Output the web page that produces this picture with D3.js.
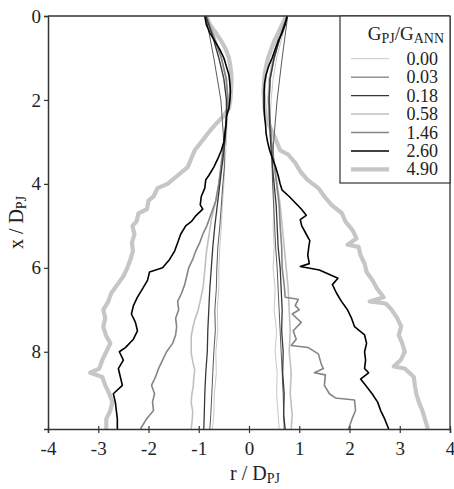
<!DOCTYPE html>
<html><head><meta charset="utf-8">
<script src="https://cdn.jsdelivr.net/npm/d3@7"></script>
<style>
html,body{margin:0;padding:0;background:#fff;}
svg text{font-family:"Liberation Serif","Times New Roman",serif;fill:#222;}
</style></head>
<body><svg id="c" width="454" height="489"></svg>
<script>
// ---- data: [x/D_PJ, r/D_PJ] ----
const seriesLabels = ["0.00","0.03","0.18","0.58","1.46","2.60","4.90"];
const xTicks = [-4,-3,-2,-1,0,1,2,3,4];
const yTicks = [0,2,4,6,8];

const g000L = [[0,-0.85],[0.5,-0.72],[1,-0.6],[1.5,-0.5],[2,-0.45],[2.5,-0.44],[3,-0.45],[3.5,-0.48],[4,-0.5],[4.5,-0.53],[5,-0.55],[5.5,-0.58],[6,-0.6],[6.5,-0.6],[7,-0.63],[7.5,-0.62],[8,-0.66],[8.5,-0.65],[9,-0.69],[9.5,-0.7],[9.84,-0.73]];
const g000R = [[0,0.76],[0.5,0.66],[1,0.55],[1.5,0.48],[2,0.44],[2.5,0.42],[3,0.44],[3.5,0.46],[4,0.48],[4.5,0.5],[5,0.48],[5.5,0.5],[6,0.48],[6.5,0.52],[7,0.5],[7.5,0.55],[8,0.52],[8.5,0.56],[9,0.55],[9.5,0.58],[9.84,0.6]];
const g003L = [[0,-0.86],[1,-0.7],[2,-0.56],[3,-0.5],[3.6,-0.49],[4,-0.52],[5,-0.58],[5.5,-0.62],[6,-0.64],[6.5,-0.65],[7,-0.68],[7.5,-0.67],[8,-0.7],[8.5,-0.72],[9,-0.74],[9.5,-0.76],[9.84,-0.78]];
const g003R = [[0,0.77],[1,0.66],[2,0.56],[3,0.49],[3.6,0.46],[4,0.47],[5,0.51],[5.5,0.53],[6,0.56],[6.5,0.58],[7,0.6],[7.5,0.62],[8,0.64],[8.5,0.66],[9,0.68],[9.5,0.69],[9.84,0.7]];
const g018L = [[0,-0.86],[0.5,-0.72],[1,-0.6],[1.5,-0.5],[2,-0.45],[2.5,-0.45],[3,-0.48],[3.5,-0.53],[4,-0.58],[4.5,-0.63],[5,-0.68],[5.5,-0.72],[6,-0.75],[6.5,-0.78],[7,-0.8],[7.5,-0.82],[8,-0.83],[8.5,-0.86],[9,-0.88],[9.5,-0.89],[9.84,-0.9]];
const g018R = [[0,0.76],[0.5,0.62],[1,0.5],[1.5,0.42],[2,0.4],[2.5,0.41],[3,0.43],[3.5,0.46],[4,0.5],[4.5,0.54],[5,0.56],[5.5,0.58],[6,0.62],[6.5,0.64],[7,0.66],[7.5,0.65],[8,0.68],[8.5,0.67],[9,0.7],[9.5,0.69],[9.84,0.72]];
const g058L = [[0,-0.85],[0.5,-0.68],[1,-0.55],[1.5,-0.46],[2,-0.42],[2.5,-0.44],[3,-0.48],[3.5,-0.54],[4,-0.6],[4.5,-0.68],[4.86,-0.75],[5.25,-0.8],[5.65,-0.85],[6.05,-0.88],[6.44,-0.91],[6.84,-0.98],[7.04,-1.02],[7.24,-1.08],[7.44,-1.12],[7.63,-1.15],[8.03,-1.15],[8.23,-1.12],[8.43,-1.08],[8.63,-1.1],[8.83,-1.11],[9.03,-1.14],[9.22,-1.15],[9.42,-1.12],[9.62,-1.13],[9.84,-1.15]];
const g058R = [[0,0.76],[0.5,0.58],[1,0.48],[1.5,0.4],[2,0.38],[2.5,0.4],[3,0.44],[3.5,0.5],[4,0.56],[4.5,0.62],[5,0.66],[5.5,0.7],[6,0.74],[6.5,0.78],[7,0.8],[7.5,0.82],[8,0.8],[8.5,0.84],[9,0.82],[9.5,0.86],[9.84,0.84]];
const g146L = [[0,-0.85],[0.5,-0.7],[1,-0.55],[1.5,-0.45],[2,-0.42],[2.5,-0.45],[3,-0.5],[3.5,-0.55],[4,-0.6],[4.4,-0.66],[4.8,-0.78],[5,-0.84],[5.2,-0.92],[5.4,-0.98],[5.6,-1.06],[5.8,-1.12],[6,-1.2],[6.2,-1.24],[6.4,-1.28],[6.6,-1.34],[6.8,-1.42],[7,-1.4],[7.2,-1.46],[7.4,-1.44],[7.6,-1.46],[7.8,-1.52],[8,-1.64],[8.2,-1.72],[8.4,-1.8],[8.6,-1.86],[8.8,-1.94],[9,-1.88],[9.2,-1.92],[9.4,-1.9],[9.6,-2.04],[9.84,-2.16]];
const g146R = [[0,0.76],[0.5,0.62],[1,0.5],[1.5,0.42],[2,0.4],[2.5,0.42],[3,0.45],[3.5,0.5],[4,0.55],[4.5,0.6],[5,0.62],[5.5,0.65],[6,0.66],[6.4,0.7],[6.7,0.72],[6.75,0.98],[6.9,0.92],[7,1.0],[7.1,0.86],[7.3,1.04],[7.5,0.88],[7.7,0.94],[7.85,0.84],[7.9,1.18],[8.05,1.38],[8.3,1.44],[8.4,1.48],[8.5,1.3],[8.55,1.52],[8.8,1.5],[9,1.6],[9.1,1.72],[9.15,2.1],[9.4,2.12],[9.6,2.05],[9.84,1.98]];
const g260L = [[0,-0.88],[0.2,-0.85],[0.4,-0.78],[0.6,-0.68],[0.8,-0.58],[1,-0.5],[1.2,-0.45],[1.4,-0.4],[1.6,-0.38],[1.8,-0.37],[2,-0.38],[2.2,-0.4],[2.4,-0.45],[2.6,-0.46],[2.8,-0.48],[3,-0.5],[3.2,-0.55],[3.4,-0.62],[3.6,-0.7],[3.8,-0.8],[3.9,-0.86],[4.1,-0.88],[4.3,-0.95],[4.5,-0.97],[4.6,-0.92],[4.75,-1.05],[4.9,-1.15],[5,-1.26],[5.2,-1.36],[5.4,-1.42],[5.6,-1.48],[5.8,-1.58],[6,-1.72],[6.1,-1.98],[6.3,-2.02],[6.5,-2.12],[6.7,-2.22],[6.9,-2.3],[7.1,-2.34],[7.3,-2.26],[7.5,-2.22],[7.7,-2.3],[7.9,-2.46],[8,-2.58],[8.2,-2.5],[8.4,-2.6],[8.6,-2.56],[8.8,-2.52],[9,-2.7],[9.2,-2.66],[9.4,-2.64],[9.6,-2.62],[9.84,-2.62]];
const g260R = [[0,0.76],[0.2,0.72],[0.4,0.66],[0.6,0.58],[0.8,0.52],[1,0.46],[1.2,0.39],[1.4,0.34],[1.6,0.31],[1.8,0.3],[2,0.3],[2.2,0.3],[2.4,0.31],[2.6,0.33],[2.8,0.34],[3,0.37],[3.2,0.41],[3.4,0.47],[3.6,0.53],[3.8,0.58],[4,0.62],[4.15,0.66],[4.3,0.8],[4.45,0.92],[4.6,1.04],[4.75,1.14],[4.85,1.02],[5,1.05],[5.2,1.14],[5.35,1.21],[5.5,1.19],[5.7,1.17],[5.9,1.2],[5.97,1.02],[6.05,1.4],[6.25,1.77],[6.4,1.66],[6.6,1.74],[6.8,1.84],[7,1.96],[7.2,2.04],[7.4,2.1],[7.6,2.3],[7.8,2.34],[8,2.3],[8.2,2.32],[8.4,2.3],[8.5,2.38],[8.65,2.22],[8.8,2.32],[9,2.45],[9.2,2.56],[9.4,2.62],[9.6,2.7],[9.84,2.78]];
const g490L = [[0,-0.85],[0.2,-0.78],[0.4,-0.66],[0.6,-0.55],[0.8,-0.46],[1,-0.4],[1.2,-0.37],[1.4,-0.35],[1.6,-0.35],[1.8,-0.36],[2,-0.37],[2.2,-0.4],[2.4,-0.52],[2.6,-0.68],[2.8,-0.82],[3,-0.95],[3.2,-1.08],[3.4,-1.15],[3.6,-1.22],[3.8,-1.42],[4,-1.62],[4.1,-1.82],[4.3,-1.9],[4.4,-2.0],[4.6,-2.03],[4.7,-2.2],[4.9,-2.24],[5,-2.32],[5.2,-2.28],[5.4,-2.33],[5.6,-2.31],[5.8,-2.36],[6,-2.42],[6.2,-2.5],[6.4,-2.62],[6.6,-2.74],[6.8,-2.8],[7,-2.9],[7.2,-2.86],[7.4,-2.9],[7.6,-2.85],[7.8,-2.76],[8,-2.84],[8.2,-2.92],[8.4,-2.98],[8.5,-3.16],[8.6,-2.92],[8.8,-2.86],[9,-2.78],[9.2,-2.72],[9.4,-2.76],[9.6,-2.84],[9.84,-2.84]];
const g490R = [[0,0.74],[0.2,0.66],[0.4,0.58],[0.6,0.5],[0.8,0.44],[1,0.38],[1.2,0.34],[1.4,0.31],[1.6,0.3],[1.8,0.29],[2,0.3],[2.2,0.31],[2.4,0.34],[2.6,0.4],[2.8,0.48],[3,0.55],[3.2,0.62],[3.3,0.78],[3.5,0.92],[3.7,1.02],[3.9,1.16],[4.1,1.38],[4.3,1.5],[4.5,1.64],[4.7,1.85],[4.9,1.92],[5.1,2.06],[5.3,2.14],[5.45,1.96],[5.5,2.18],[5.7,2.22],[5.9,2.3],[6.1,2.34],[6.3,2.46],[6.5,2.55],[6.7,2.68],[6.8,2.4],[6.85,2.72],[7,2.84],[7.2,2.95],[7.4,3.03],[7.6,2.98],[7.8,3.05],[8,3.1],[8.2,3.02],[8.35,2.88],[8.4,3.1],[8.6,3.28],[8.8,3.3],[9,3.33],[9.2,3.38],[9.4,3.45],[9.6,3.5],[9.84,3.56]];

// ---- styles ----
const styles = {
  "0.00": {color:"#c8c8c8", w:1.0},
  "0.03": {color:"#5a5a5a", w:1.0},
  "0.18": {color:"#383838", w:1.3},
  "0.58": {color:"#c0c0c0", w:1.6},
  "1.46": {color:"#858585", w:1.6},
  "2.60": {color:"#000000", w:1.6},
  "4.90": {color:"#c6c6c6", w:4.2}
};
const seriesData = {
  "0.00":[g000L,g000R], "0.03":[g003L,g003R], "0.18":[g018L,g018R],
  "0.58":[g058L,g058R], "1.46":[g146L,g146R], "2.60":[g260L,g260R], "4.90":[g490L,g490R]
};
const drawOrder = ["4.90","0.00","0.58","1.46","0.03","0.18","2.60"];

const svg = d3.select("#c");
const L=48, R=450, T=16, B=429;
const x = d3.scaleLinear().domain([-4,4]).range([L,R]);
const y = d3.scaleLinear().domain([0,9.84]).range([T,B]);

const line = d3.line().x(d=>x(d[1])).y(d=>y(d[0]));
const gLines = svg.append("g");
drawOrder.forEach(k=>{
  seriesData[k].forEach(arr=>{
    gLines.append("path").attr("d", line(arr)).attr("fill","none")
      .attr("stroke", styles[k].color).attr("stroke-width", styles[k].w)
      .attr("stroke-linejoin","round");
  });
});

// frame
const axisColor = "#333";
svg.append("line").attr("x1",L).attr("x2",R).attr("y1",T).attr("y2",T).attr("stroke",axisColor).attr("stroke-width",1.3);
svg.append("line").attr("x1",R).attr("x2",R).attr("y1",T).attr("y2",B).attr("stroke",axisColor).attr("stroke-width",1.3);

// axes
const fmt = d => String(d);
const xAxis = svg.append("g").attr("transform",`translate(0,${B})`)
  .call(d3.axisBottom(x).tickValues(xTicks).tickSize(4).tickPadding(9).tickFormat(fmt));
const yAxis = svg.append("g").attr("transform",`translate(${L},0)`)
  .call(d3.axisLeft(y).tickValues(yTicks).tickSize(4).tickPadding(3).tickFormat(fmt));
[xAxis,yAxis].forEach(a=>{
  a.select(".domain").attr("stroke",axisColor).attr("stroke-width",1.5);
  a.selectAll(".tick line").attr("stroke",axisColor).attr("stroke-width",1.2);
  a.selectAll(".tick text").attr("fill","#222").style("font-family","Liberation Serif").style("font-size","19px");
});
// inward ticks on x-axis
xAxis.selectAll(".tick").append("line").attr("y1",0).attr("y2",-3).attr("stroke",axisColor).attr("stroke-width",1.2);

// axis titles
const xt = svg.append("text").attr("x",(L+R)/2+6).attr("y",480).attr("text-anchor","middle").style("font-size","20px");
xt.append("tspan").text("r / D");
xt.append("tspan").attr("dy",3).style("font-size","14px").text("PJ");

const yt = svg.append("text").attr("transform",`translate(23,${(T+B)/2}) rotate(-90)`).attr("text-anchor","middle").style("font-size","20px");
yt.append("tspan").text("x / D");
yt.append("tspan").attr("dy",3).style("font-size","14px").text("PJ");

// legend
const lg = svg.append("g");
lg.append("rect").attr("x",340).attr("y",T).attr("width",R-340).attr("height",183-T)
  .attr("fill","#fff").attr("stroke",axisColor).attr("stroke-width",1.2);
const lt = lg.append("text").attr("x",444).attr("y",40).attr("text-anchor","end").style("font-size","19px");
lt.append("tspan").text("G");
lt.append("tspan").attr("dy",3).style("font-size","14px").text("PJ");
lt.append("tspan").attr("dy",-3).text("/G");
lt.append("tspan").attr("dy",3).style("font-size","14px").text("ANN");
seriesLabels.forEach((k,i)=>{
  const yy = 58.7 + i*18.45;
  lg.append("line").attr("x1",351).attr("x2",389).attr("y1",yy).attr("y2",yy)
    .attr("stroke",styles[k].color).attr("stroke-width",styles[k].w);
  lg.append("text").attr("x",438).attr("y",yy+6).attr("text-anchor","end").style("font-size","18px").text(k);
});
</script></body></html>
